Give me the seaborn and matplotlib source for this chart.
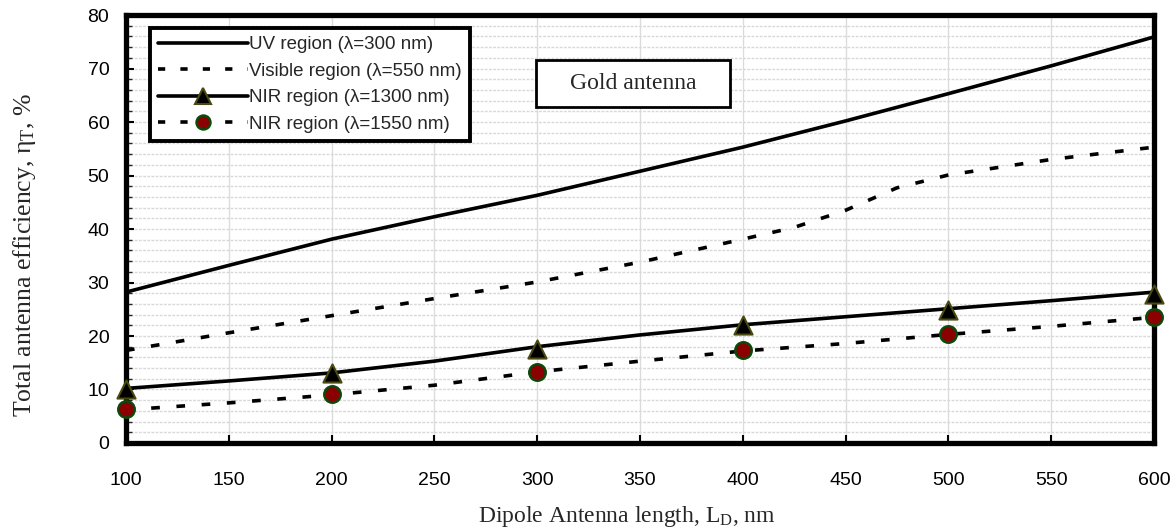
import numpy as np
import pandas as pd
import matplotlib
matplotlib.use("Agg")
import matplotlib.pyplot as plt
from matplotlib.lines import Line2D
from matplotlib.patches import Rectangle
from matplotlib.ticker import MultipleLocator
import seaborn as sns

# ---------------- data ----------------
length_fine = [100, 150, 200, 250, 300, 350, 400, 450, 500, 550, 600]
uv_300 = [28.2, 33.2, 38.1, 42.3, 46.3, 50.8, 55.3, 60.2, 65.3, 70.5, 75.9]

vis_length = [100, 150, 200, 250, 300, 350, 400, 425, 450, 475, 500, 550, 600]
vis_550 = [17.3, 20.6, 23.8, 27.0, 30.1, 33.8, 38.1, 40.3, 43.5, 47.7, 50.1, 53.0, 55.3]

nir_1300_line = [10.2, 11.6, 13.1, 15.3, 18.0, 20.2, 22.1, 23.6, 25.1, 26.6, 28.2]
nir_1550_line = [6.2, 7.5, 9.0, 10.8, 13.3, 15.3, 17.2, 18.6, 20.3, 21.8, 23.5]

length_pts = [100, 200, 300, 400, 500, 600]
nir_1300_pts = [10.0, 13.0, 17.6, 22.0, 24.8, 27.9]
nir_1550_pts = [6.3, 9.2, 13.3, 17.3, 20.3, 23.5]

labels = ["UV region (λ=300 nm)", "Visible region (λ=550 nm)",
          "NIR region (λ=1300 nm)", "NIR region (λ=1550 nm)"]
x_ticks = [100, 150, 200, 250, 300, 350, 400, 450, 500, 550, 600]
y_ticks = [0, 10, 20, 30, 40, 50, 60, 70, 80]

# ---------------- style ----------------
sns.set_theme(style="white")
plt.rcParams["font.family"] = ["Liberation Sans", "DejaVu Sans"]
plt.rcParams["mathtext.fontset"] = "custom"
plt.rcParams["mathtext.rm"] = "Liberation Serif"
plt.rcParams["mathtext.it"] = "Liberation Serif:italic"

fig = plt.figure(figsize=(11.73, 5.27), dpi=100)
ax = fig.add_axes([0.1074, 0.1594, 0.8764, 0.8121])

LW = 2.6
dash = (2.4, 4.6)

df_uv = pd.DataFrame({"x": length_fine, "y": uv_300})
df_vis = pd.DataFrame({"x": vis_length, "y": vis_550})
df_n13 = pd.DataFrame({"x": length_fine, "y": nir_1300_line})
df_n15 = pd.DataFrame({"x": length_fine, "y": nir_1550_line})
df_p13 = pd.DataFrame({"x": length_pts, "y": nir_1300_pts})
df_p15 = pd.DataFrame({"x": length_pts, "y": nir_1550_pts})

sns.lineplot(data=df_uv, x="x", y="y", ax=ax, color="black", lw=LW, zorder=3)
sns.lineplot(data=df_vis, x="x", y="y", ax=ax, color="black", lw=LW, zorder=3)
ax.lines[-1].set_dashes(dash)
sns.lineplot(data=df_n13, x="x", y="y", ax=ax, color="black", lw=LW, zorder=3)
sns.lineplot(data=df_n15, x="x", y="y", ax=ax, color="black", lw=LW, zorder=3)
ax.lines[-1].set_dashes(dash)

sns.scatterplot(data=df_p13, x="x", y="y", ax=ax, marker="^", s=170,
                color="black", edgecolor="#4a4a10", linewidth=1.5, zorder=5, clip_on=False)
sns.scatterplot(data=df_p15, x="x", y="y", ax=ax, marker="o", s=140,
                color="#8b0000", edgecolor="#0b4a0b", linewidth=1.8, zorder=5, clip_on=False)

ax.set_xlim(100, 600)
ax.set_ylim(0, 80)
ax.set_xticks(x_ticks)
ax.set_yticks(y_ticks)
ax.yaxis.set_minor_locator(MultipleLocator(2))
ax.tick_params(axis="both", which="major", direction="in", length=6, width=1.5,
               labelsize=14, colors="black")
ax.tick_params(axis="x", pad=21)
ax.tick_params(axis="y", pad=12)
ax.tick_params(axis="y", which="minor", direction="in", length=4, width=1.0, left=True)
ax.tick_params(left=True, bottom=True)

ax.grid(axis="x", which="major", color="#dcdcdc", lw=1.0, ls="-", zorder=0)
ax.grid(axis="y", which="both", color="#d8d8d8", lw=1.0, ls=(0, (2, 1)), zorder=0)
ax.set_axisbelow(True)

for s in ax.spines.values():
    s.set_linewidth(3.8)
    s.set_color("black")
    s.set_visible(True)

ax.set_xlabel("Dipole Antenna length, L$_\\mathrm{D}$, nm",
              family=["Liberation Serif"], fontsize=17)
ax.set_ylabel("Total antenna efficiency, η$_\\mathrm{T}$, %",
              family=["Liberation Serif", "DejaVu Serif"], fontsize=18.5)
ax.xaxis.set_label_coords(0.487, -0.143)
ax.yaxis.set_label_coords(-0.086, 0.44)

handles = [
    Line2D([], [], color="black", lw=LW),
    Line2D([], [], color="black", lw=LW, dashes=(2.0, 4.2)),
    Line2D([], [], color="black", lw=LW, marker="^", markersize=12,
           markerfacecolor="black", markeredgecolor="#4a4a10", markeredgewidth=1.5,
           markevery=[1]),
    Line2D([], [], color="black", lw=LW, dashes=(2.0, 4.2), marker="o", markersize=10,
           markerfacecolor="#8b0000", markeredgecolor="#0b4a0b", markeredgewidth=1.8,
           markevery=[1]),
]
for h in handles:
    h.set_data([0, 0.5, 1], [0, 0, 0])
leg = ax.legend(handles, labels, loc="upper left", bbox_to_anchor=(0.023, 0.97),
                borderaxespad=0, frameon=True, fancybox=False, fontsize=13.5,
                handlelength=4.8, handletextpad=0.05, labelspacing=0.5,
                borderpad=0.45)
leg.get_frame().set_edgecolor("black")
leg.get_frame().set_linewidth(2.8)
leg.get_frame().set_facecolor("white")
leg.get_frame().set_alpha(1)
leg.set_zorder(10)

box = Rectangle((0.399, 0.784), 0.189, 0.112, transform=ax.transAxes,
                facecolor="white", edgecolor="black", lw=2.0, zorder=8)
ax.add_patch(box)
ax.text(0.4935, 0.840, "Gold antenna", transform=ax.transAxes, ha="center", va="center",
        family=["Liberation Serif"], fontsize=17, zorder=9)

fig.savefig("out.png", dpi=100)
